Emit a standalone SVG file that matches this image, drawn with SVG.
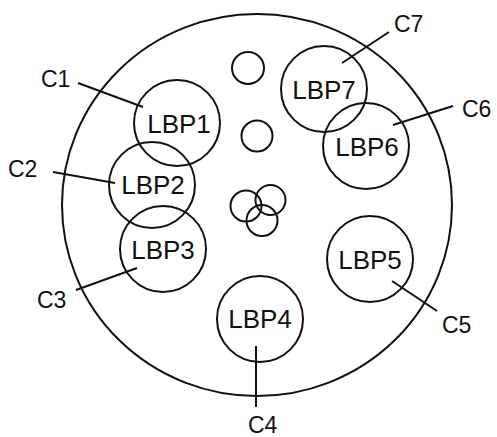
<svg xmlns="http://www.w3.org/2000/svg" width="497" height="437" viewBox="0 0 497 437">
<style>
.c{fill:none;stroke:#111;stroke-width:2}
.s{fill:none;stroke:#111;stroke-width:2}
.l{stroke:#111;stroke-width:2}
.t{font-family:"Liberation Sans",Arial,sans-serif;font-size:26px;fill:#111;text-anchor:middle}
.n{font-family:"Liberation Sans",Arial,sans-serif;font-size:23px;fill:#111}
</style>
<rect width="497" height="437" fill="#fff"/>
<ellipse id="disc" class="c" cx="257" cy="205" rx="195" ry="191"/>
<g id="holes">
<circle class="s" cx="248" cy="68" r="16"/>
<circle class="s" cx="257" cy="136" r="15.5"/>
<circle class="s" cx="246" cy="206" r="15.5"/>
<circle class="s" cx="270.5" cy="200" r="15"/>
<circle class="s" cx="262" cy="220.5" r="15.5"/>
</g>
<g id="LBP1"><circle class="c" cx="177" cy="123" r="43"/><text class="t" x="179" y="133">LBP1</text></g>
<g id="LBP2"><circle class="c" cx="152" cy="185" r="43"/><text class="t" x="153" y="194">LBP2</text></g>
<g id="LBP3"><circle class="c" cx="163" cy="249" r="43"/><text class="t" x="163" y="259">LBP3</text></g>
<g id="LBP4"><circle class="c" cx="260" cy="319" r="43"/><text class="t" x="260" y="328">LBP4</text></g>
<g id="LBP5"><circle class="c" cx="370" cy="259" r="43"/><text class="t" x="370" y="269">LBP5</text></g>
<g id="LBP6"><circle class="c" cx="366" cy="146" r="43"/><text class="t" x="367" y="156">LBP6</text></g>
<g id="LBP7"><circle class="c" cx="324" cy="89" r="43"/><text class="t" x="324" y="99">LBP7</text></g>
<g id="connectors">
<line class="l" x1="78" y1="83" x2="143" y2="107"/>
<line class="l" x1="53" y1="172" x2="115" y2="183"/>
<line class="l" x1="76" y1="290" x2="137" y2="268"/>
<line class="l" x1="256" y1="346" x2="256" y2="407"/>
<line class="l" x1="392" y1="281" x2="437" y2="311"/>
<line class="l" x1="393" y1="125" x2="453" y2="106"/>
<line class="l" x1="342" y1="63" x2="389" y2="32"/>
</g>
<g id="labels">
<text class="n" x="41" y="87">C1</text>
<text class="n" x="8" y="177">C2</text>
<text class="n" x="37" y="308">C3</text>
<text class="n" x="248" y="433">C4</text>
<text class="n" x="442" y="333">C5</text>
<text class="n" x="462" y="117">C6</text>
<text class="n" x="394" y="32">C7</text>
</g>
</svg>
